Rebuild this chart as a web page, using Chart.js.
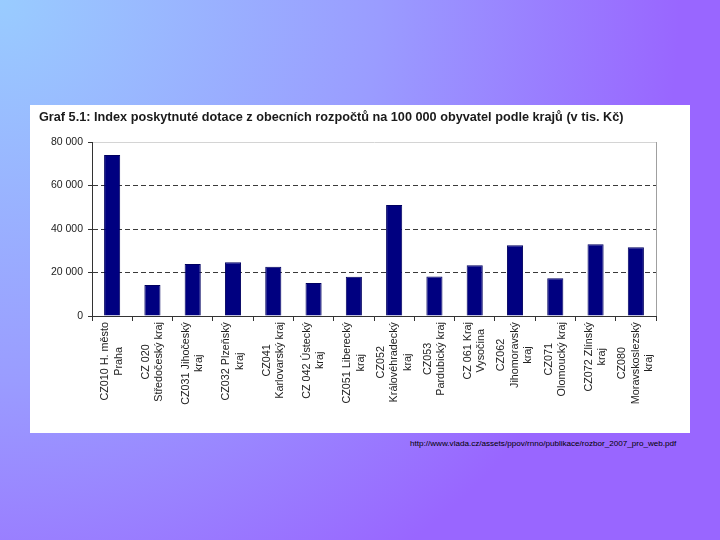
<!DOCTYPE html>
<html>
<head>
<meta charset="utf-8">
<script src="https://cdn.jsdelivr.net/npm/chart.js@4/dist/chart.umd.min.js"></script>
<style>
  html, body { margin: 0; padding: 0; }
  body {
    width: 720px; height: 540px; position: relative; overflow: hidden;
    background: radial-gradient(circle at 0 0, #99ccff 0px, #9a9cff 380px, #9966ff 680px);
    font-family: "Liberation Sans", Arial, sans-serif;
  }
  #panel {
    position: absolute; left: 30px; top: 105px; width: 660px; height: 328px;
    background: #ffffff;
  }
  #title {
    position: absolute; left: 9px; top: 5px; line-height: 14px;
    font-size: 12.7px; font-weight: bold; color: #1a1a1a; white-space: nowrap;
  }
  #chartBox { position: absolute; left: 0; top: 0; width: 660px; height: 328px; }
  #source {
    position: absolute; left: 410px; top: 439px; font-size: 8.1px; color: #000;
    white-space: nowrap;
  }
</style>
</head>
<body>
<div id="panel">
  <div id="chartBox"><canvas id="chart"></canvas></div>
  <div id="title">Graf 5.1: Index poskytnuté dotace z obecních rozpočtů na 100 000 obyvatel podle krajů (v tis. Kč)</div>
</div>
<div id="source">http://www.vlada.cz/assets/ppov/rnno/publikace/rozbor_2007_pro_web.pdf</div>

<script>
// regions (each label split into its printed lines)
const regionLabels = [
  ["CZ010 H. město", "Praha"],
  ["CZ 020", "Středočeský kraj"],
  ["CZ031 Jihočeský", "kraj"],
  ["CZ032 Plzeňský", "kraj"],
  ["CZ041", "Karlovarský kraj"],
  ["CZ 042 Ústecký", "kraj"],
  ["CZ051 Liberecký", "kraj"],
  ["CZ052", "Královéhradecký", "kraj"],
  ["CZ053", "Pardubický kraj"],
  ["CZ 061 Kraj", "Vysočina"],
  ["CZ062", "Jihomoravský", "kraj"],
  ["CZ071", "Olomoucký kraj"],
  ["CZ072 Zlínský", "kraj"],
  ["CZ080", "Moravskoslezský", "kraj"]
];

// index of subsidies per 100 000 inhabitants (thousand CZK)
const subsidyIndex = [74000, 14300, 23900, 24700, 22600, 15200, 18100, 51000, 18200, 23300, 32500, 17300, 33000, 31600];

const yTicks = [0, 20000, 40000, 60000, 80000];

function formatThousands(v) {
  return String(v).replace(/\B(?=(\d{3})+(?!\d))/g, " ");
}

// draws the rotated, centred multi-line category labels under each bar
const rotatedLabels = {
  id: "rotatedLabels",
  afterDraw(chart) {
    const ctx = chart.ctx;
    const xScale = chart.scales.x;
    const top = chart.chartArea.bottom + 6;
    const lineH = 13.5;
    ctx.save();
    ctx.font = "10.8px 'Liberation Sans', Arial, sans-serif";
    ctx.fillStyle = "#222";
    ctx.textAlign = "center";
    ctx.textBaseline = "middle";
    regionLabels.forEach(function (lines, i) {
      const x = xScale.getPixelForValue(i);
      let maxW = 0;
      lines.forEach(function (l) { maxW = Math.max(maxW, ctx.measureText(l).width); });
      ctx.save();
      ctx.translate(x, top + maxW / 2);
      ctx.rotate(-Math.PI / 2);
      lines.forEach(function (l, j) {
        ctx.fillText(l, 0, (j - (lines.length - 1) / 2) * lineH);
      });
      ctx.restore();
    });
    ctx.restore();
  }
};

// light frame on the right side of the plot area
const plotFrame = {
  id: "plotFrame",
  beforeDatasetsDraw(chart) {
    const a = chart.chartArea;
    const ctx = chart.ctx;
    ctx.save();
    ctx.strokeStyle = "#a0a0a0";
    ctx.lineWidth = 1;
    ctx.beginPath();
    ctx.moveTo(Math.round(a.right) + 0.5, a.top);
    ctx.lineTo(Math.round(a.right) + 0.5, a.bottom);
    ctx.stroke();
    ctx.restore();
  }
};

const ctx = document.getElementById("chart").getContext("2d");
new Chart(ctx, {
  type: "bar",
  data: {
    labels: regionLabels.map(function (l) { return l.join(" "); }),
    datasets: [{
      data: subsidyIndex,
      backgroundColor: "#000080",
      borderColor: "#000060",
      borderWidth: 1,
      categoryPercentage: 1,
      barPercentage: 0.4
    }]
  },
  options: {
    responsive: true,
    maintainAspectRatio: false,
    animation: false,
    layout: { padding: { top: 37, right: 34, left: 0, bottom: 0 } },
    plugins: {
      legend: { display: false },
      tooltip: { enabled: false },
      title: { display: false }
    },
    scales: {
      x: {
        offset: true,
        ticks: { display: false },
        grid: {
          display: true,
          offset: true,
          drawOnChartArea: false,
          drawTicks: true,
          tickLength: 5,
          tickColor: "#333"
        },
        border: { color: "#333", width: 1 },
        afterFit: function (s) { s.height = 117; }
      },
      y: {
        min: 0,
        max: 80000,
        afterBuildTicks: function (s) { s.ticks = yTicks.map(function (v) { return { value: v }; }); },
        ticks: {
          padding: 5,
          color: "#222",
          font: { family: "'Liberation Sans', Arial, sans-serif", size: 10.5 },
          callback: function (v) { return formatThousands(v); }
        },
        grid: {
          color: function (c) {
            if (!c.tick) return "#444";
            if (c.tick.value === 80000) return "#d4d4d4";
            return "#3a3a3a";
          },
          tickLength: 4,
          tickColor: "#333"
        },
        border: {
          color: "#333",
          width: 1,
          dash: function (c) {
            if (c.tick && c.tick.value > 0 && c.tick.value < 80000) return [5, 3];
            return [];
          }
        },
        afterFit: function (s) { s.width = 62; }
      }
    }
  },
  plugins: [plotFrame, rotatedLabels]
});
</script>
</body>
</html>
